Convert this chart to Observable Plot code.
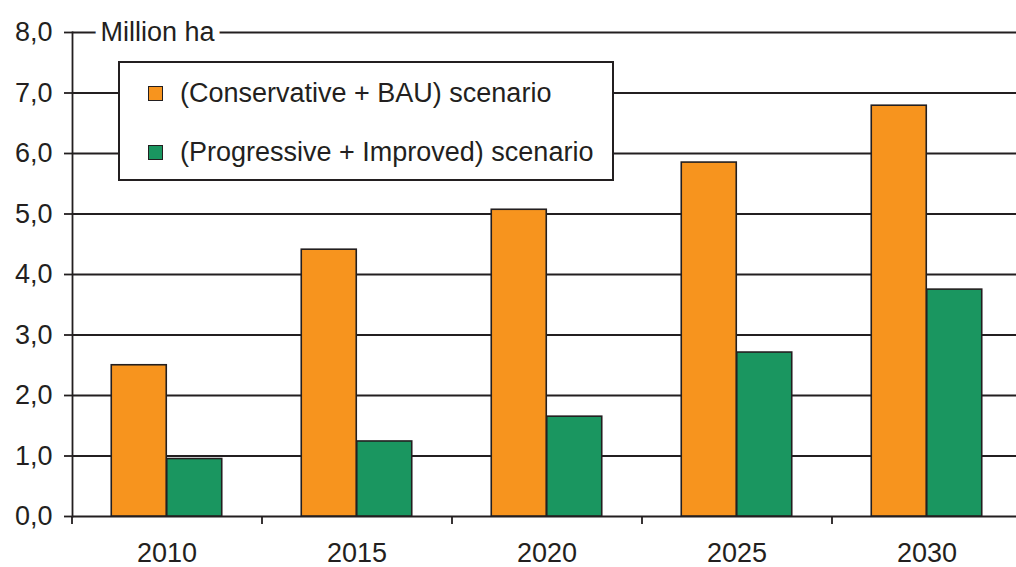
<!DOCTYPE html>
<html>
<head>
<meta charset="utf-8">
<script src="https://cdn.jsdelivr.net/npm/d3@7"></script>
<script src="https://cdn.jsdelivr.net/npm/@observablehq/plot@0.6"></script>
<style>
  html, body { margin: 0; padding: 0; background: #fff; }
  #wrap { position: relative; width: 1016px; height: 567px; overflow: hidden; font-family: "Liberation Sans", Arial, sans-serif; color: #231f20; }
  #legend { position: absolute; left: 118px; top: 61px; width: 496px; height: 120px; box-sizing: border-box; border: 2px solid #231f20; background: #fff; }
  .row { position: absolute; left: 28px; height: 30px; display: flex; align-items: center; font-size: 27px; white-space: nowrap; }
  .sw { width: 13px; height: 13px; border: 1.5px solid #231f20; margin-right: 17px; flex: none; }
</style>
</head>
<body>
<div id="wrap"><div id="legend"></div></div>
<script>
const years = ["2010", "2015", "2020", "2025", "2030"];
const seriesNames = ["(Conservative + BAU) scenario", "(Progressive + Improved) scenario"];
const conservative = [2.50, 4.41, 5.07, 5.85, 6.79];
const progressive = [0.95, 1.24, 1.65, 2.71, 3.75];
const colors = ["#f7941e", "#1a9660"];
const yTicks = [0, 1, 2, 3, 4, 5, 6, 7, 8];
const unitLabel = "Million ha";

const W = 1016, H = 567, mL = 72, mT = 32, mB = 51;
const xRange = [mL, 1022];
const step = (xRange[1] - xRange[0]) / years.length;
const pad = 0.708;
const bw = step * (1 - pad);
const ink = "#231f20";

const rowsA = years.map((y, i) => ({year: y, value: conservative[i], series: seriesNames[0]}));
const rowsB = years.map((y, i) => ({year: y, value: progressive[i], series: seriesNames[1]}));

const chart = Plot.plot({
  width: W, height: H,
  marginLeft: mL, marginRight: 0, marginTop: mT, marginBottom: mB,
  style: {fontFamily: '"Liberation Sans", Arial, sans-serif', color: ink, background: "transparent", overflow: "visible"},
  x: {domain: years, range: xRange, paddingInner: pad, paddingOuter: pad / 2, align: 0.5},
  y: {domain: [0, 8]},
  marks: [
    Plot.ruleY(yTicks, {stroke: ink, strokeWidth: 1.8}),
    Plot.ruleX(years, {x: d => d, dx: -step / 2, y1: 0, y2: 0, insetBottom: -8, stroke: ink, strokeWidth: 1.8}),
    Plot.barY(rowsA, {x: "year", y: "value", fill: colors[0], stroke: ink, strokeWidth: 1.6, dx: -bw / 2}),
    Plot.barY(rowsB, {x: "year", y: "value", fill: colors[1], stroke: ink, strokeWidth: 1.6, dx: bw / 2}),
    Plot.frame({anchor: "left", stroke: ink, strokeWidth: 1.8}),
    Plot.text([unitLabel], {text: d => d, frameAnchor: "top-left", dx: 28, textAnchor: "start", lineAnchor: "middle", fontSize: 27, fill: ink, stroke: "white", strokeWidth: 14}),
    Plot.axisY({ticks: yTicks, tickFormat: d => d.toFixed(1).replace(".", ","), tickSize: 8, tickPadding: 12, fontSize: 27, strokeWidth: 1.8, label: null}),
    Plot.axisX({tickSize: 0, tickPadding: 26, fontSize: 27, label: null})
  ]
});
const wrap = document.getElementById("wrap");
wrap.insertBefore(chart, wrap.firstChild);

const legend = document.getElementById("legend");
seriesNames.forEach((name, i) => {
  const row = document.createElement("div");
  row.className = "row";
  row.style.top = (15 + i * 59) + "px";
  const sw = document.createElement("div");
  sw.className = "sw";
  sw.style.background = colors[i];
  const t = document.createElement("span");
  t.textContent = name;
  row.appendChild(sw);
  row.appendChild(t);
  legend.appendChild(row);
});
</script>
</body>
</html>
